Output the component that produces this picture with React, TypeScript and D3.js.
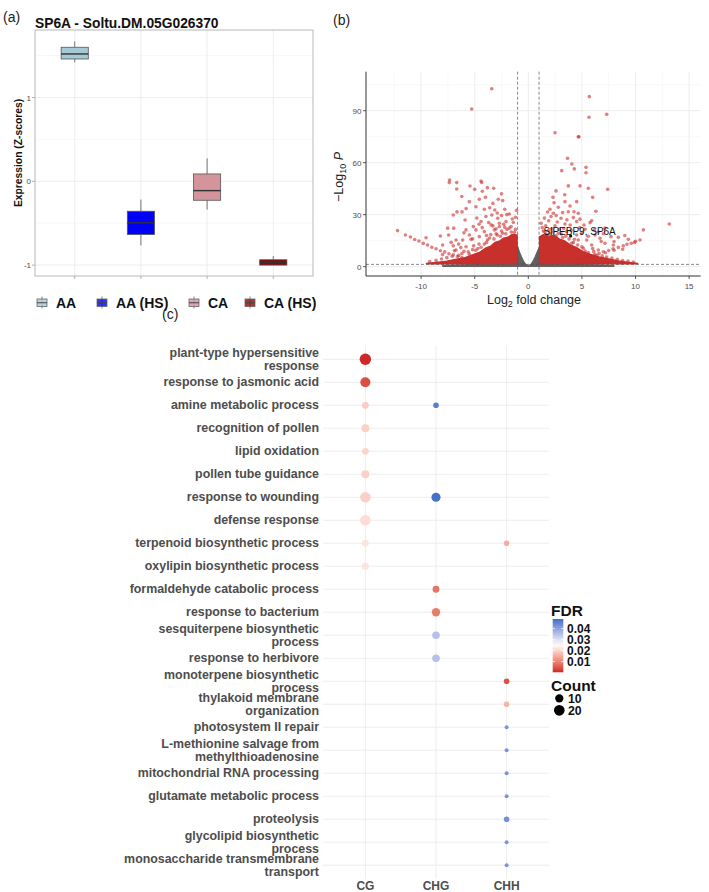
import React, { useEffect } from "react";
import * as d3 from "d3";

const FONT = '"Liberation Sans", Arial, Helvetica, sans-serif';

// ---------- (a) SP6A expression boxplot
const boxGroups = ["AA", "AA (HS)", "CA", "CA (HS)"];
const boxFills = ["#a6c9d6", "#0000f5", "#d4949c", "#8c0606"];
// [lower whisker, q1, median, q3, upper whisker]
const boxStats = [
  [1.42, 1.46, 1.52, 1.6, 1.67],
  [-0.765, -0.635, -0.495, -0.357, -0.218],
  [-0.337, -0.226, -0.111, 0.088, 0.274],
  [-1.0, -1.0, -0.97, -0.936, -0.893],
];
const exprTicks = [-1, 0, 1];
const exprMinor = [-0.5, 0.5, 1.5];

// ---------- (b) volcano
const fcTicks = [-10, -5, 0, 5, 10, 15];
const fcMinor = [-12.5, -7.5, -2.5, 2.5, 7.5, 12.5];
const pTicks = [0, 30, 60, 90];
const pMinor = [15, 45, 75, 105];
const fcCutoff = [-1, 1];
const pCutoff = 1.3;

// significant genes [log2FC, -log10 P]
const sigLeft: [number, number][] = [
  [-3.41, 102.7], [-5.28, 91.0],
  [-7.34, 50.0], [-7.37, 48.5], [-6.68, 48.5], [-6.68, 44.8], [-4.41, 49.4], [-4.35, 48.6],
  [-5.44, 46.5], [-5.0, 44.6], [-3.82, 45.6], [-3.23, 45.2], [-4.29, 43.5],
  [-5.5, 37.5], [-4.57, 38.9], [-2.8, 38.9], [-2.39, 38.1], [-4.88, 34.6], [-4.1, 33.1],
  [-6.65, 31.6], [-6.18, 31.6], [-7.0, 29.8], [-5.9, 26.9], [-3.13, 32.7], [-3.4, 29.8],
  [-2.2, 33.1], [-1.77, 30.4], [-7.52, 22.2], [-6.96, 22.2], [-7.43, 18.3], [-8.2, 17.7],
  [-9.54, 16.7], [-5.81, 21.2], [-5.13, 23.1], [-6.12, 15.4], [-5.35, 15.8], [-6.74, 9.6],
  [-3.95, 28.9], [-2.85, 27.9], [-2.08, 26.0], [-4.41, 26.0], [-3.48, 24.1], [-2.7, 23.1],
  [-4.88, 21.2], [-4.1, 20.2], [-3.17, 21.2], [-1.77, 22.2], [-2.39, 19.3], [-4.57, 17.3],
  [-5.5, 18.3], [-6.74, 15.4], [-7.99, 12.5], [-5.81, 11.5], [-2.6, 17.5], [-3.0, 19.0],
  [-3.6, 16.5], [-3.9, 14.0], [-4.6, 13.0], [-5.1, 12.0], [-4.9, 9.5], [-5.6, 8.5],
  [-6.2, 7.5], [-6.3, 11.0], [-7.1, 6.0], [-7.0, 12.0], [-3.3, 23.5], [-2.3, 24.5],
  [-1.4, 25.5], [-1.2, 21.5], [-1.6, 20.0], [-2.0, 21.5], [-3.7, 25.5], [-4.8, 28.0],
  [-2.9, 31.0], [-3.6, 34.0], [-1.5, 27.5], [-2.5, 29.5],
  [-1.3, 17.5], [-1.8, 16.2], [-2.1, 19.0], [-2.5, 20.5], [-2.9, 18.2], [-3.2, 16.0],
  [-3.5, 18.5], [-3.8, 15.5], [-4.1, 13.0], [-4.4, 11.2], [-4.7, 10.5], [-5.2, 9.8],
  [-5.5, 7.2], [-6.0, 8.8], [-6.5, 6.5], [-6.9, 9.2], [-7.6, 5.2], [-8.1, 4.4],
  [-8.6, 3.6], [-9.2, 3.0], [-3.0, 21.8], [-2.2, 22.8], [-1.6, 23.2], [-1.3, 19.8],
  [-2.7, 25.0], [-4.3, 22.5], [-4.6, 24.5], [-3.9, 18.0], [-5.2, 16.0], [-6.0, 19.5],
  [-6.5, 13.0], [-7.2, 14.0], [-8.0, 7.0], [-1.2, 28.5], [-2.0, 30.0], [-1.1, 32.5],
  [-3.3, 36.5], [-4.0, 40.0], [-2.5, 42.0], [-6.2, 40.5], [-5.8, 33.5],
];
const sigRight: [number, number][] = [
  [5.69, 98.1], [7.31, 87.9], [5.66, 86.2], [2.49, 77.3], [4.66, 75.0], [4.72, 74.9],
  [3.66, 62.5], [4.06, 59.2], [3.12, 55.4], [4.29, 56.4], [5.38, 57.3], [5.38, 54.2],
  [3.73, 46.6], [4.82, 46.6], [5.6, 45.2], [7.4, 44.7], [2.58, 43.7], [3.42, 37.5],
  [4.51, 37.5], [2.4, 36.9], [2.02, 33.1], [2.8, 34.3], [3.89, 35.0], [3.73, 31.7],
  [4.26, 31.7], [4.66, 30.8], [3.2, 31.2], [2.33, 30.8], [2.12, 28.9], [3.05, 27.9],
  [4.2, 28.3], [4.82, 27.4], [5.91, 26.5], [5.76, 25.4], [4.51, 26.0], [3.42, 24.6],
  [2.49, 23.5], [1.62, 23.5], [7.15, 22.2], [6.16, 21.2], [5.29, 21.6], [7.71, 17.3],
  [8.4, 17.0], [9.33, 15.8], [6.69, 16.4], [7.15, 13.5], [7.93, 12.5], [6.22, 18.3],
  [5.45, 15.4], [1.56, 20.2], [2.02, 19.3], [2.8, 19.3], [3.58, 20.2], [4.51, 18.3],
  [4.66, 15.4], [4.05, 13.5], [5.91, 12.5], [5.13, 10.6], [6.53, 9.6], [13.15, 24.6],
  [10.73, 21.2], [1.9, 26.5], [2.7, 25.8], [3.3, 22.0], [4.0, 21.0], [1.3, 22.5],
  [2.2, 21.8], [5.0, 19.5], [5.6, 17.5], [6.8, 14.5], [3.2, 16.8], [4.3, 15.8],
  [6.0, 10.5], [7.2, 8.0], [8.0, 9.5], [8.8, 10.0], [9.9, 14.0],
  [1.2, 17.0], [1.4, 20.5], [1.7, 18.5], [1.9, 21.0], [2.3, 20.0], [2.6, 17.8],
  [2.9, 21.5], [3.1, 18.8], [3.5, 17.5], [3.8, 16.0], [4.2, 14.0], [4.6, 12.5],
  [5.0, 11.5], [5.3, 9.0], [5.6, 8.2], [6.1, 8.8], [6.4, 6.5], [6.9, 6.2], [7.3, 5.5],
  [7.8, 5.0], [8.3, 4.2], [8.8, 3.5], [9.3, 3.2], [9.8, 2.6], [1.2, 25.0], [1.5, 28.0],
  [2.6, 29.5], [3.6, 27.0], [3.9, 24.0], [4.8, 22.5], [5.2, 24.0], [6.5, 20.0],
  [7.0, 19.0], [8.0, 14.5], [9.0, 18.0], [1.8, 31.5], [2.3, 40.0], [3.4, 41.5],
  [6.3, 32.0], [6.0, 40.0],
];
// low-count "arms" of the volcano
const armLeft: [number, number][] = [
  [-12.2, 20.8], [-11.47, 18.3], [-11.0, 17.1], [-10.6, 15.7], [-10.2, 14.8], [-9.8, 13.4],
  [-9.4, 12.5], [-9.0, 11.2], [-8.6, 10.3], [-8.2, 9.2], [-7.8, 8.5], [-7.4, 7.4],
  [-7.0, 6.8], [-6.6, 5.8], [-6.2, 5.3], [-5.8, 4.4], [-5.4, 4.0], [-5.0, 3.2], [-4.6, 2.9],
];
const armRight: [number, number][] = [
  [10.42, 15.4], [10.0, 14.6], [9.6, 13.5], [9.2, 12.9], [8.86, 12.0], [8.4, 11.1],
  [7.9, 10.3], [7.5, 9.3], [7.0, 8.6], [6.6, 7.6], [6.2, 7.1], [5.8, 6.2], [5.4, 5.7],
  [5.0, 4.9], [4.6, 4.5],
];
// outlines of the saturated point clouds
const redCloudLeft: [number, number][] = [
  [-9.5, 1.8], [-8.6, 2.4], [-7.6, 3.1], [-6.8, 4.2], [-5.9, 5.2], [-5.2, 6.8], [-4.5, 8.4],
  [-4.0, 10.6], [-3.5, 11.8], [-3.1, 13.9], [-2.7, 14.6], [-2.3, 16.4], [-1.9, 16.9],
  [-1.5, 18.6], [-1.05, 18.2], [-1.05, 1.7], [-9.5, 1.7],
];
const redCloudRight: [number, number][] = [
  [1.05, 1.7], [1.05, 17.2], [1.4, 18.4], [1.9, 17.6], [2.4, 18.1], [2.9, 15.9],
  [3.4, 14.8], [3.9, 12.6], [4.5, 10.9], [5.1, 8.6], [5.8, 7.0], [6.6, 5.6], [7.5, 4.4],
  [8.4, 3.2], [9.4, 2.4], [10.2, 1.8], [10.2, 1.7],
];
const grayCloud: [number, number][] = [
  [-8, 0.1], [-8, 0.8], [-5, 1.2], [-2.5, 1.5], [-1.1, 2.0], [-1.0, 12.0], [-0.85, 9.0],
  [-0.65, 6.0], [-0.45, 3.4], [-0.25, 1.5], [0, 0.5], [0.25, 1.5], [0.45, 3.4], [0.65, 6.0],
  [0.85, 9.0], [1.0, 11.0], [1.1, 2.0], [2.5, 1.5], [5, 1.2], [8, 0.8], [8, 0.1],
];
const labelledGene = { fc: 3.95, p: 17.7, name: "SlPEBP9, SP6A" };

// ---------- (c) GO enrichment dot plot
const goTerms = [
  "plant-type hypersensitive|response",
  "response to jasmonic acid",
  "amine metabolic process",
  "recognition of pollen",
  "lipid oxidation",
  "pollen tube guidance",
  "response to wounding",
  "defense response",
  "terpenoid biosynthetic process",
  "oxylipin biosynthetic process",
  "formaldehyde catabolic process",
  "response to bacterium",
  "sesquiterpene biosynthetic|process",
  "response to herbivore",
  "monoterpene biosynthetic|process",
  "thylakoid membrane|organization",
  "photosystem II repair",
  "L-methionine salvage from|methylthioadenosine",
  "mitochondrial RNA processing",
  "glutamate metabolic process",
  "proteolysis",
  "glycolipid biosynthetic|process",
  "monosaccharide transmembrane|transport",
];
const contexts = ["CG", "CHG", "CHH"];
// [term index, context, FDR, Count]
const goHits: [number, string, number, number][] = [
  [0, "CG", 0.0005, 24], [1, "CG", 0.004, 17], [2, "CG", 0.019, 6], [3, "CG", 0.0195, 9],
  [4, "CG", 0.02, 6], [5, "CG", 0.0195, 9], [6, "CG", 0.0195, 20], [7, "CG", 0.021, 20],
  [8, "CG", 0.022, 6], [9, "CG", 0.022, 7],
  [2, "CHG", 0.046, 4], [6, "CHG", 0.048, 13], [10, "CHG", 0.008, 6], [11, "CHG", 0.009, 10],
  [12, "CHG", 0.035, 8], [13, "CHG", 0.035, 8],
  [8, "CHH", 0.015, 4], [14, "CHH", 0.004, 4], [15, "CHH", 0.016, 4], [16, "CHH", 0.042, 3],
  [17, "CHH", 0.042, 3], [18, "CHH", 0.042, 3], [19, "CHH", 0.042, 3], [20, "CHH", 0.043, 4],
  [21, "CHH", 0.042, 3], [22, "CHH", 0.042, 3],
];
const fdrTicks = [0.01, 0.02, 0.03, 0.04];
const countTicks = [10, 20];

const gridCol = "#ebebeb";
const textCol = "#4d4d4d";

export default function App() {
  useEffect(() => {
    document.body.style.margin = "0";
  }, []);

  // ---- (a)
  const xA = d3.scalePoint<string>().domain(boxGroups).range([35, 313]).padding(0.6);
  const yA = d3.scaleLinear().domain([-1.13, 1.806]).range([276, 30]);
  const boxW = xA.step() * 0.41;
  const legendAX = [37, 97, 189, 245];
  const legendY = 303;

  // ---- (b)
  const xV = d3.scaleLinear().domain([-15.14, 16.08]).range([366, 700.7]);
  const yV = d3.scaleLinear().domain([-5.4, 112.5]).range([276, 71.7]);
  const cloud = d3
    .line<[number, number]>()
    .x((d) => xV(d[0]))
    .y((d) => yV(d[1]))
    .curve(d3.curveLinearClosed);
  const redPts = [...sigLeft, ...sigRight, ...armLeft, ...armRight];

  // ---- (c)
  const xC = d3.scalePoint<string>().domain(contexts).range([323, 549]).padding(0.6);
  const yC = d3
    .scalePoint<number>()
    .domain(goTerms.map((_, i) => i))
    .range([345.5, 879])
    .padding(0.6);
  const fdrExtent = [0.0003, 0.0485];
  const fdrColor = d3
    .scaleLinear<string>()
    .domain([fdrExtent[0], (fdrExtent[0] + fdrExtent[1]) / 2 + 0.001, fdrExtent[1]])
    .range(["#cd2626", "#ffffff", "#3f6fc8"])
    .interpolate(d3.interpolateLab);
  const countT = d3.scaleLinear().domain([3, 24]).range([0, 1]).clamp(true);
  const rScale = d3.scaleSqrt().domain([0, 1]).range([2.0, 5.7]);
  const rOf = (c: number) => rScale(countT(c));
  const yBar = d3.scaleLinear().domain(fdrExtent).range([672.3, 619]);
  const gradStops = d3.range(0, 1.0001, 0.1);
  const lineGap = 12.8;

  return (
    <svg width={709} height={892} style={{ display: "block", background: "#fff" }} fontFamily={FONT}>
      <defs>
        <linearGradient id="fdrGrad" x1="0" y1="1" x2="0" y2="0">
          {gradStops.map((t) => (
            <stop
              key={t}
              offset={t}
              stopColor={fdrColor(fdrExtent[0] + t * (fdrExtent[1] - fdrExtent[0]))}
            />
          ))}
        </linearGradient>
      </defs>

      {/* ================= (a) ================= */}
      <text x={3} y={22} fontSize={14} fill="#222">(a)</text>
      <text x={35} y={27.5} fontSize={13.8} fontWeight="bold" fill="#111">
        SP6A - Soltu.DM.05G026370
      </text>
      <g>
        {exprMinor.map((v) => (
          <line key={"mn" + v} x1={35} x2={313} y1={yA(v)} y2={yA(v)} stroke="#f4f4f4" strokeWidth={0.6} />
        ))}
        {exprTicks.map((v) => (
          <line key={"mj" + v} x1={35} x2={313} y1={yA(v)} y2={yA(v)} stroke={gridCol} strokeWidth={0.9} />
        ))}
        {boxGroups.map((g) => (
          <line key={"vg" + g} x1={xA(g)} x2={xA(g)} y1={30} y2={276} stroke={gridCol} strokeWidth={0.9} />
        ))}
        <rect x={35} y={30} width={278} height={246} fill="none" stroke="#b8b8b8" strokeWidth={1} />
        {exprTicks.map((v) => (
          <g key={"yt" + v}>
            <line x1={32} x2={35} y1={yA(v)} y2={yA(v)} stroke="#b3b3b3" />
            <text x={31} y={yA(v) + 3} fontSize={8} fill={textCol} textAnchor="end">
              {v}
            </text>
          </g>
        ))}
        {boxGroups.map((g) => (
          <line key={"xt" + g} x1={xA(g)} x2={xA(g)} y1={276} y2={279} stroke="#b3b3b3" />
        ))}
        <text
          transform={`translate(22,153) rotate(-90)`}
          fontSize={10.3}
          fontWeight="bold"
          textAnchor="middle"
          fill="#111"
        >
          Expression (Z-scores)
        </text>
        {boxGroups.map((g, i) => {
          const [lo, q1, md, q3, hi] = boxStats[i];
          const cx = xA(g) as number;
          return (
            <g key={"box" + g}>
              <line x1={cx} x2={cx} y1={yA(hi)} y2={yA(q3)} stroke="#555" strokeWidth={0.8} />
              <line x1={cx} x2={cx} y1={yA(q1)} y2={yA(lo)} stroke="#555" strokeWidth={0.8} />
              <rect
                x={cx - boxW / 2}
                y={yA(q3)}
                width={boxW}
                height={Math.max(1, yA(q1) - yA(q3))}
                fill={boxFills[i]}
                stroke="#555"
                strokeWidth={0.8}
              />
              <line x1={cx - boxW / 2} x2={cx + boxW / 2} y1={yA(md)} y2={yA(md)} stroke="#333" strokeWidth={1.4} />
            </g>
          );
        })}
        {boxGroups.map((g, i) => (
          <g key={"lg" + g}>
            <line x1={legendAX[i] + 5} x2={legendAX[i] + 5} y1={legendY - 6.5} y2={legendY + 5.5} stroke="#666" strokeWidth={0.8} />
            <rect x={legendAX[i]} y={legendY - 4} width={10} height={7.5} fill={boxFills[i]} fillOpacity={0.8} stroke="#666" strokeWidth={0.8} />
            <line x1={legendAX[i]} x2={legendAX[i] + 10} y1={legendY - 0.25} y2={legendY - 0.25} stroke="#444" strokeWidth={1} />
            <text x={legendAX[i] + 19} y={legendY + 5} fontSize={14} fontWeight="bold" fill="#111">
              {g}
            </text>
          </g>
        ))}
      </g>

      {/* ================= (b) ================= */}
      <text x={333} y={25} fontSize={14} fill="#222">(b)</text>
      <g>
        {fcMinor.map((v) => (
          <line key={"fm" + v} x1={xV(v)} x2={xV(v)} y1={71.7} y2={276} stroke="#f3f3f3" strokeWidth={0.6} />
        ))}
        {pMinor.map((v) => (
          <line key={"pm" + v} x1={366} x2={700.7} y1={yV(v)} y2={yV(v)} stroke="#f3f3f3" strokeWidth={0.6} />
        ))}
        {fcTicks.map((v) => (
          <line key={"fj" + v} x1={xV(v)} x2={xV(v)} y1={71.7} y2={276} stroke={gridCol} strokeWidth={0.9} />
        ))}
        {pTicks.map((v) => (
          <line key={"pj" + v} x1={366} x2={700.7} y1={yV(v)} y2={yV(v)} stroke={gridCol} strokeWidth={0.9} />
        ))}

        <path d={cloud(grayCloud) || ""} fill="#606060" stroke="#606060" strokeWidth={1} strokeLinejoin="round" />
        <path d={cloud(redCloudLeft) || ""} fill="#c8302c" stroke="#c8302c" strokeWidth={1.5} strokeLinejoin="round" />
        <path d={cloud(redCloudRight) || ""} fill="#c8302c" stroke="#c8302c" strokeWidth={1.5} strokeLinejoin="round" />
        {redPts.map((d, i) => (
          <circle key={"rp" + i} cx={xV(d[0])} cy={yV(d[1])} r={1.8} fill="#cc2b2b" fillOpacity={0.6} />
        ))}

        {fcCutoff.map((v) => (
          <line key={"vc" + v} x1={xV(v)} x2={xV(v)} y1={71.7} y2={276} stroke="#555" strokeWidth={0.7} strokeDasharray="3,2" />
        ))}
        <line x1={366} x2={700.7} y1={yV(pCutoff)} y2={yV(pCutoff)} stroke="#555" strokeWidth={0.7} strokeDasharray="3,2" />

        <circle cx={xV(labelledGene.fc)} cy={yV(labelledGene.p)} r={1.6} fill="#111" />
        <text
          x={xV(labelledGene.fc) + 9}
          y={yV(labelledGene.p) - 1}
          fontSize={10}
          textAnchor="middle"
          fill="#111"
        >
          {labelledGene.name}
        </text>

        <line x1={366} x2={366} y1={71.7} y2={276} stroke="#333" strokeWidth={1} />
        <line x1={366} x2={700.7} y1={276} y2={276} stroke="#333" strokeWidth={1} />
        {pTicks.map((v) => (
          <g key={"pt" + v}>
            <line x1={363} x2={366} y1={yV(v)} y2={yV(v)} stroke="#333" strokeWidth={0.8} />
            <text x={361.5} y={yV(v) + 3} fontSize={8} textAnchor="end" fill={textCol}>
              {v}
            </text>
          </g>
        ))}
        {fcTicks.map((v) => (
          <g key={"ft" + v}>
            <line x1={xV(v)} x2={xV(v)} y1={276} y2={279} stroke="#333" strokeWidth={0.8} />
            <text x={xV(v)} y={288.5} fontSize={8} textAnchor="middle" fill={textCol}>
              {v}
            </text>
          </g>
        ))}
        <text x={534} y={304} fontSize={12.5} textAnchor="middle" fill="#222">
          Log<tspan dy={3} fontSize={9}>2</tspan>
          <tspan dy={-3}> fold change</tspan>
        </text>
        <text transform="translate(343,177) rotate(-90)" fontSize={12.5} textAnchor="middle" fill="#222">
          −Log<tspan dy={3} fontSize={9}>10</tspan>
          <tspan dy={-3}> </tspan>
          <tspan fontStyle="italic">P</tspan>
        </text>
      </g>

      {/* ================= (c) ================= */}
      <text x={162} y={319} fontSize={14} fill="#222">(c)</text>
      <g>
        {goTerms.map((_, i) => (
          <line key={"hg" + i} x1={323} x2={549} y1={yC(i)} y2={yC(i)} stroke={gridCol} strokeWidth={0.9} />
        ))}
        {contexts.map((c) => (
          <line key={"cg" + c} x1={xC(c)} x2={xC(c)} y1={345.5} y2={879} stroke={gridCol} strokeWidth={0.9} />
        ))}
        {goTerms.map((t, i) => {
          const lines = t.split("|");
          const y0 = (yC(i) as number) - ((lines.length - 1) * lineGap) / 2 + 4.2;
          return (
            <text key={"lb" + i} fontSize={12.4} fontWeight="bold" fill={textCol} textAnchor="end">
              {lines.map((l, k) => (
                <tspan key={k} x={319} y={y0 + k * lineGap}>
                  {l}
                </tspan>
              ))}
            </text>
          );
        })}
        {goHits.map(([ti, ctx, fdr, count], i) => (
          <circle key={"gd" + i} cx={xC(ctx)} cy={yC(ti)} r={rOf(count)} fill={fdrColor(fdr)} />
        ))}
        {contexts.map((c) => (
          <text key={"cx" + c} x={xC(c)} y={890} fontSize={12} fontWeight="bold" fill={textCol} textAnchor="middle">
            {c}
          </text>
        ))}

        {/* FDR colour bar */}
        <text x={551} y={616} fontSize={15.5} fontWeight="bold" fill="#111">FDR</text>
        <rect x={552.7} y={619} width={10.6} height={53.3} fill="url(#fdrGrad)" />
        {fdrTicks.map((v) => (
          <g key={"fb" + v}>
            <line x1={552.7} x2={554.8} y1={yBar(v)} y2={yBar(v)} stroke="#fff" strokeWidth={0.8} />
            <line x1={561.2} x2={563.3} y1={yBar(v)} y2={yBar(v)} stroke="#fff" strokeWidth={0.8} />
            <text x={567} y={yBar(v) + 4.2} fontSize={12} fontWeight="bold" fill="#111">
              {v.toFixed(2)}
            </text>
          </g>
        ))}

        {/* Count size legend */}
        <text x={551} y={690.5} fontSize={15.5} fontWeight="bold" fill="#111">Count</text>
        {countTicks.map((c, i) => (
          <g key={"cl" + c}>
            <circle cx={559.3} cy={698.3 + i * 12} r={rOf(c)} fill="#000" />
            <text x={568} y={698.3 + i * 12 + 4.3} fontSize={12.3} fontWeight="bold" fill="#111">
              {c}
            </text>
          </g>
        ))}
      </g>
    </svg>
  );
}
